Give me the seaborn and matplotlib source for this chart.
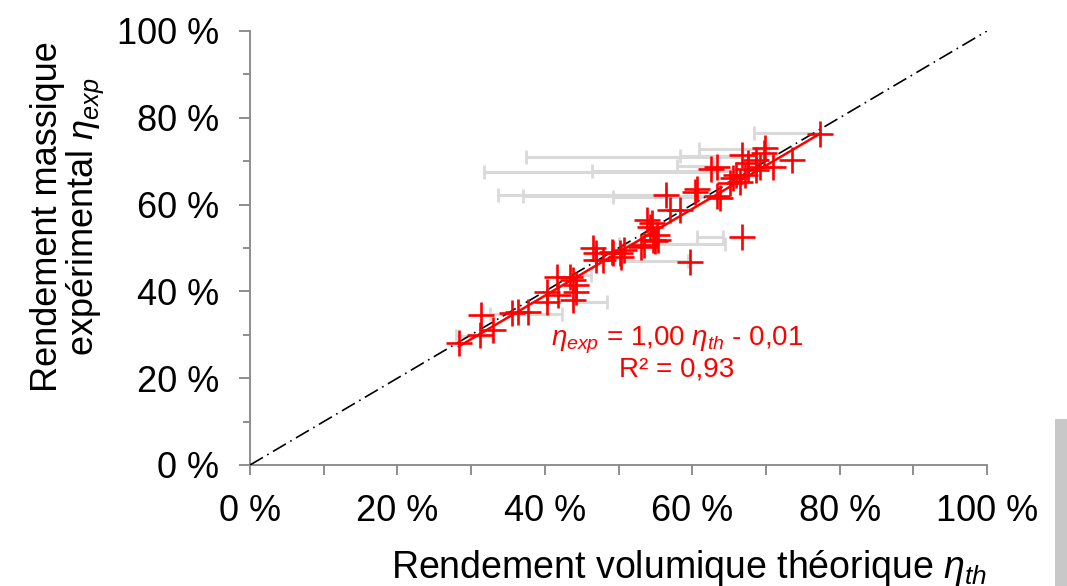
import matplotlib
matplotlib.use("Agg")
import matplotlib.pyplot as plt
from matplotlib.patches import Rectangle
from matplotlib.ticker import MultipleLocator, FuncFormatter
import seaborn as sns
import numpy as np
import pandas as pd

# measured points (%): theoretical volume yield vs experimental mass yield
eta_th = [28.3, 31.2, 31.4, 33.0, 35.5, 36.4, 37.7, 40.3, 40.3, 41.8,
          41.6, 43.4, 43.8, 44.3, 43.8, 44.3, 46.6, 47.0, 47.0, 47.9,
          49.1, 49.3, 50.2, 50.7, 50.4, 53.1, 53.4, 54.7, 55.4, 55.2,
          54.9, 59.7, 66.8, 53.8, 54.5, 54.3, 56.5, 57.0, 58.3, 60.6,
          60.4, 63.3, 63.8, 62.6, 63.3, 65.1, 65.6, 66.0, 66.5, 67.2,
          67.6, 67.6, 68.7, 68.7, 69.2, 69.7, 69.9, 71.0, 66.7, 73.6,
          77.3]
eta_exp = [28.0, 30.0, 34.6, 31.1, 35.0, 35.3, 35.3, 37.6, 39.9, 39.2,
           43.4, 43.4, 42.6, 41.5, 38.0, 39.9, 50.0, 48.8, 47.2, 47.2,
           49.1, 48.8, 48.8, 49.5, 48.0, 50.3, 50.7, 51.8, 51.8, 53.0,
           51.5, 46.8, 52.6, 56.5, 55.7, 54.9, 62.2, 58.8, 58.8, 63.7,
           62.8, 61.9, 61.5, 68.3, 68.7, 64.9, 66.1, 66.8, 65.3, 66.8,
           68.3, 69.5, 68.0, 70.3, 68.7, 71.8, 73.0, 68.7, 71.4, 70.3,
           76.3]

# horizontal uncertainty bars (%): level, low end, high end
bar_y = [76.5, 72.8, 71.0, 71.3, 69.0, 67.6, 67.8, 62.2, 62.0, 61.8,
         52.6, 50.9, 46.9, 43.8, 37.6, 34.7, 29.7]
bar_lo = [68.4, 60.9, 37.5, 58.4, 57.9, 31.8, 46.4, 33.7, 37.1, 49.2,
          60.6, 50.0, 50.4, 43.8, 43.8, 32.6, 28.0]
bar_hi = [77.3, 70.3, 66.7, 69.7, 63.0, 63.3, 67.6, 56.5, 63.3, 63.8,
          64.2, 64.5, 59.4, 46.3, 48.4, 42.3, 32.8]

# linear fit shown on the chart
slope = 1.00
intercept = -0.01
r2 = 0.93

sns.set_theme(style="white")
plt.rcParams["font.family"] = ["Liberation Sans", "DejaVu Sans"]
plt.rcParams["mathtext.fontset"] = "custom"
plt.rcParams["mathtext.rm"] = "Liberation Sans"
plt.rcParams["mathtext.it"] = "Liberation Sans:italic"
plt.rcParams["text.color"] = "black"
plt.rcParams["xtick.color"] = "black"
plt.rcParams["ytick.color"] = "black"

df = pd.DataFrame({"th": np.array(eta_th) / 100, "exp": np.array(eta_exp) / 100})
bars = pd.DataFrame({"y": np.array(bar_y) / 100,
                     "lo": np.array(bar_lo) / 100,
                     "hi": np.array(bar_hi) / 100})

fig = plt.figure(figsize=(10.67, 5.86), dpi=100)
ax = fig.add_axes([250 / 1067, 1 - 465 / 586, 737 / 1067, 434 / 586])

grey = "#868686"

# error bars
mid = (bars["lo"] + bars["hi"]) / 2
half = (bars["hi"] - bars["lo"]) / 2
ax.errorbar(mid, bars["y"], xerr=half, fmt="none", ecolor="#d9d9d9",
            elinewidth=2.2, capsize=5, capthick=2.0, zorder=1)

# identity line
sns.lineplot(x=[0, 1], y=[0, 1], ax=ax, color="black", lw=1.2,
             linestyle=(0, (9, 3, 1, 3)), zorder=3)

# trend line
xs = np.array([df["th"].min(), df["th"].max()])
sns.lineplot(x=xs, y=slope * xs + intercept, ax=ax, color="#ff0000",
             lw=1.8, zorder=4)

# points
sns.scatterplot(data=df, x="th", y="exp", ax=ax, marker="+", color="#ff0000",
                s=340, linewidth=1.9, zorder=5)

ax.set_xlim(0, 1)
ax.set_ylim(0, 1)
ax.set_xlabel("")
ax.set_ylabel("")

pct = FuncFormatter(lambda v, p: f"{v * 100:.0f} %")
ax.xaxis.set_major_locator(MultipleLocator(0.2))
ax.xaxis.set_minor_locator(MultipleLocator(0.1))
ax.yaxis.set_major_locator(MultipleLocator(0.2))
ax.yaxis.set_minor_locator(MultipleLocator(0.1))
ax.xaxis.set_major_formatter(pct)
ax.yaxis.set_major_formatter(pct)

for s in ["top", "right"]:
    ax.spines[s].set_visible(False)
for s in ["left", "bottom"]:
    ax.spines[s].set_color(grey)
    ax.spines[s].set_linewidth(1.3)

ax.tick_params(axis="x", which="both", direction="out", length=7, width=1.3,
               color=grey, labelcolor="black", labelsize=26, pad=14, bottom=True)
ax.tick_params(axis="y", which="major", direction="out", length=8, width=1.3,
               color=grey, labelcolor="black", labelsize=26, pad=14, left=True)
ax.tick_params(axis="y", which="minor", direction="out", length=5, width=1.3,
               color=grey, left=True)

fig.text(0.064, 1 - 217 / 586, "Rendement massique\nexpérimental $\\eta_{exp}$",
         rotation=90, ha="center", va="center", fontsize=26,
         multialignment="center", linespacing=1.0)
fig.text(987 / 1067, 0.014, "Rendement volumique théorique $\\eta_{th}$",
         ha="right", va="baseline", fontsize=27)

fig.text(677 / 1067, 1 - 340 / 586,
         f"$\\eta_{{exp}}$ = {slope:.2f} $\\eta_{{th}}$ - {abs(intercept):.2f}".replace(".", ","),
         ha="center", va="center", fontsize=20, color="#ff0000")
fig.text(677 / 1067, 1 - 370 / 586, f"R² = {r2:.2f}".replace(".", ","),
         ha="center", va="center", fontsize=20, color="#ff0000")

fig.add_artist(Rectangle((1055 / 1067, 0), 12 / 1067, 167 / 586,
                         transform=fig.transFigure, color="#c8c8c8", lw=0))

fig.savefig("out.png", dpi=100)
